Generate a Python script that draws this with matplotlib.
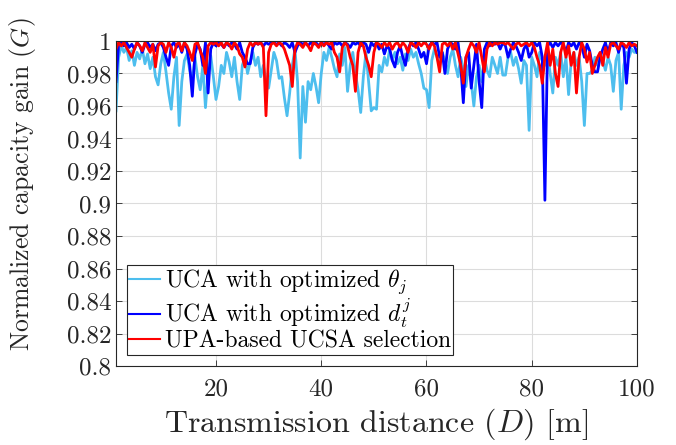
import numpy as np
import matplotlib
matplotlib.use("Agg")
import matplotlib.pyplot as plt
from matplotlib.ticker import FuncFormatter

plt.rcParams['font.family'] = 'cmr10'
plt.rcParams['mathtext.fontset'] = 'cm'
plt.rcParams['axes.unicode_minus'] = False

# distance grid: 1 m to 100 m in 0.5 m steps
distance = np.arange(1, 100.5, 0.5)

# UCA with optimized theta_j
gain_theta = [
    0.957, 0.990, 0.997, 0.993, 0.996, 0.988, 0.994, 0.985, 0.993, 0.989,
    0.995, 0.986, 0.992, 0.983, 0.990, 0.978, 0.973, 0.986, 0.993, 0.981,
    0.968, 0.958, 0.978, 0.990, 0.948, 0.975, 0.988, 0.992, 0.982, 0.975,
    0.990, 0.978, 0.970, 0.985, 0.959, 0.980, 0.991, 0.978, 0.964, 0.972,
    0.985, 0.980, 0.993, 0.987, 0.978, 0.990, 0.975, 0.964, 0.985, 0.990,
    0.980, 0.987, 0.993, 0.985, 0.990, 0.978, 0.985, 0.975, 0.971, 0.982,
    0.993, 0.988, 0.977, 0.978, 0.965, 0.954, 0.968, 0.985, 0.995, 0.975,
    0.928, 0.972, 0.950, 0.975, 0.970, 0.980, 0.972, 0.962, 0.980, 0.993,
    0.988, 0.996, 0.990, 0.983, 0.978, 0.992, 0.985, 0.996, 0.969, 0.985,
    0.993, 0.980, 0.970, 0.956, 0.978, 0.993, 0.975, 0.957, 0.959, 0.958,
    0.985, 0.981, 0.990, 0.985, 0.995, 0.988, 0.993, 0.986, 0.990, 0.982,
    0.992, 0.988, 0.995, 0.990, 0.993, 0.986, 0.980, 0.971, 0.970, 0.959,
    0.988, 0.995, 0.990, 0.985, 0.993, 0.988, 0.980, 0.990, 0.995, 0.985,
    0.978, 0.990, 0.983, 0.972, 0.985, 0.975, 0.960, 0.978, 0.985, 0.975,
    0.990, 0.982, 0.978, 0.990, 0.985, 0.980, 0.990, 0.979, 0.979, 0.990,
    0.993, 0.985, 0.990, 0.983, 0.974, 0.988, 0.985, 0.945, 0.990, 0.985,
    0.978, 0.993, 0.988, 0.985, 0.993, 0.980, 0.968, 0.990, 0.985, 0.993,
    0.978, 0.990, 0.967, 0.988, 0.993, 0.985, 0.990, 0.975, 0.948, 0.980,
    0.980, 0.982, 0.990, 0.985, 0.993, 0.988, 0.982, 0.990, 0.985, 0.969,
    0.988, 0.993, 0.958, 0.985, 0.993, 0.990, 0.995, 0.993, 0.993,
]

# UCA with optimized d_t^j
gain_dist = [
    0.975, 0.998, 0.999, 0.997, 0.999, 0.996, 0.998, 0.995, 0.999, 0.997,
    0.993, 0.998, 0.999, 0.996, 0.998, 0.994, 0.998, 0.999, 0.996, 0.990,
    0.985, 0.997, 0.999, 0.996, 0.998, 0.993, 0.999, 0.995, 0.985, 0.966,
    0.992, 0.998, 0.995, 0.985, 0.999, 0.968, 0.995, 0.999, 0.997, 0.999,
    0.998, 0.996, 0.999, 0.997, 0.999, 0.998, 0.995, 0.999, 0.993, 0.990,
    0.986, 0.986, 0.996, 0.999, 0.998, 0.999, 0.997, 0.999, 0.998, 0.999,
    0.999, 0.998, 0.999, 0.997, 0.999, 0.998, 0.996, 0.999, 0.993, 0.997,
    0.999, 0.998, 0.999, 0.997, 0.999, 0.998, 0.999, 0.997, 0.999, 0.998,
    0.999, 0.997, 0.995, 0.999, 0.998, 0.999, 0.997, 0.999, 0.998, 0.996,
    0.999, 0.998, 0.999, 0.997, 0.999, 0.998, 0.993, 0.999, 0.997, 0.999,
    0.995, 0.998, 0.992, 0.997, 0.995, 0.988, 0.984, 0.993, 0.997, 0.990,
    0.985, 0.995, 0.999, 0.997, 0.999, 0.995, 0.990, 0.993, 0.986, 0.997,
    0.999, 0.998, 0.999, 0.990, 0.993, 0.980, 0.995, 0.999, 0.998, 0.995,
    0.999, 0.985, 0.962, 0.990, 0.993, 0.971, 0.985, 0.998, 0.975, 0.959,
    0.995, 0.999, 0.997, 0.999, 0.998, 0.999, 0.995, 0.999, 0.997, 0.990,
    0.995, 0.999, 0.997, 0.993, 0.988, 0.995, 0.998, 0.990, 0.993, 0.999,
    0.997, 0.999, 0.990, 0.902, 0.997, 0.999, 0.996, 0.999, 0.997, 0.999,
    0.998, 0.993, 0.999, 0.997, 0.999, 0.995, 0.999, 0.997, 0.990, 0.998,
    0.994, 0.985, 0.981, 0.981, 0.990, 0.995, 0.999, 0.993, 0.999, 0.997,
    0.999, 0.993, 0.999, 0.996, 0.974, 0.995, 0.999, 0.997, 0.993,
]

# UPA-based UCSA selection
gain_upa = [
    0.995, 0.999, 0.997, 0.999, 0.996, 0.993, 0.990, 0.995, 0.999, 0.997,
    0.994, 0.999, 0.996, 0.993, 0.998, 0.984, 0.997, 0.999, 0.998, 0.993,
    0.999, 0.996, 0.990, 0.998, 0.999, 0.994, 0.999, 0.997, 0.993, 0.988,
    0.998, 0.999, 0.994, 0.990, 0.980, 0.997, 0.999, 0.998, 0.999, 0.997,
    0.999, 0.996, 0.999, 0.998, 0.995, 0.999, 0.997, 0.992, 0.990, 0.984,
    0.995, 0.999, 0.997, 0.999, 0.998, 0.999, 0.996, 0.954, 0.993, 0.998,
    0.999, 0.997, 0.999, 0.998, 0.995, 0.990, 0.985, 0.972, 0.995, 0.999,
    0.998, 0.996, 0.999, 0.997, 0.994, 0.999, 0.998, 0.996, 0.999, 0.997,
    0.999, 0.998, 0.999, 0.993, 0.990, 0.981, 0.996, 0.999, 0.997, 0.990,
    0.985, 0.969, 0.993, 0.999, 0.997, 0.990, 0.985, 0.978, 0.993, 0.999,
    0.998, 0.996, 0.999, 0.997, 0.999, 0.995, 0.998, 0.999, 0.996, 0.999,
    0.997, 0.993, 0.999, 0.998, 0.996, 0.999, 0.997, 0.999, 0.998, 0.995,
    0.999, 0.997, 0.990, 0.981, 0.998, 0.999, 0.997, 0.999, 0.995, 0.999,
    0.992, 0.985, 0.974, 0.990, 0.995, 0.999, 0.997, 0.993, 0.999, 0.990,
    0.981, 0.995, 0.999, 0.997, 0.999, 0.998, 0.999, 0.999, 0.998, 0.999,
    0.997, 0.995, 0.998, 0.999, 0.997, 0.998, 0.999, 0.997, 0.999, 0.996,
    0.990, 0.985, 0.974, 0.990, 0.999, 0.985, 0.995, 0.980, 0.972, 0.993,
    0.999, 0.990, 0.997, 0.985, 0.993, 0.968, 0.990, 0.999, 0.995, 0.987,
    0.993, 0.980, 0.985, 0.990, 0.993, 0.985, 0.996, 0.990, 0.998, 0.999,
    0.997, 0.995, 0.999, 0.998, 0.996, 0.999, 0.997, 0.998, 0.997,
]

labels = [r"UCA with optimized $\theta_j$",
          r"UCA with optimized $d_t^j$",
          "UPA-based UCSA selection"]
colors = ["#4DBEEE", "#0000FF", "#FF0000"]

fig = plt.figure(figsize=(6.76, 4.45), dpi=100)
ax = fig.add_axes([0.1716, 0.1775, 0.7707, 0.7304])

for y, c, lab in zip([gain_theta, gain_dist, gain_upa], colors, labels):
    ax.plot(distance, y, color=c, linewidth=2, label=lab)

ax.set_xlim(1, 100)
ax.set_ylim(0.8, 1.0)
ax.set_xticks([20, 40, 60, 80, 100])
ax.set_yticks(np.arange(0.8, 1.001, 0.02))
ax.yaxis.set_major_formatter(FuncFormatter(lambda v, p: f"{v:.2f}".rstrip('0').rstrip('.')))
ax.tick_params(direction='in', labelsize=18, length=4, width=0.6, colors='#262626',
               top=True, right=True)
ax.tick_params(axis='x', pad=9)
for s in ax.spines.values():
    s.set_color('#262626')
    s.set_linewidth(0.8)
ax.grid(True, color='#dcdcdc', linewidth=0.8)
ax.set_axisbelow(True)

ax.set_xlabel(r"Transmission distance $(D)$ [m]", fontsize=23, color='#262626')
ax.xaxis.set_label_coords(0.5, -0.125)
ax.set_ylabel(r"Normalized capacity gain $(G)$", fontsize=18.5, color='#262626')
ax.yaxis.set_label_coords(-0.15, 0.56)

leg = ax.legend(loc='lower left', bbox_to_anchor=(0.021, 0.034), borderaxespad=0,
                fontsize=17, fancybox=False, framealpha=1, edgecolor='#262626',
                handlelength=1.3, handletextpad=0.2, borderpad=0.1, labelspacing=0.02)
leg.get_frame().set_linewidth(0.8)
for h in leg.get_lines():
    h.set_linewidth(1.5)

fig.savefig("out.png", dpi=100)
